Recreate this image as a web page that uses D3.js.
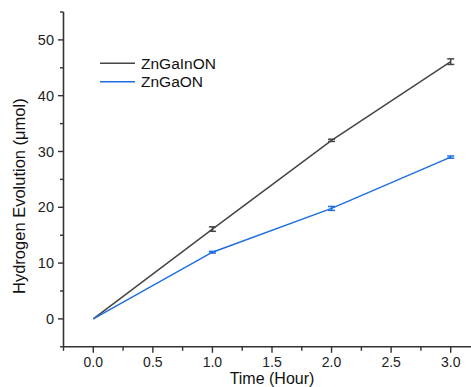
<!DOCTYPE html>
<html>
<head>
<meta charset="utf-8">
<script src="https://cdn.jsdelivr.net/npm/d3@7"></script>
<style>
  body { margin: 0; background: #fff; }
  svg { display: block; font-family: "Liberation Sans", Arial, sans-serif; }
</style>
</head>
<body>
<div id="chart"></div>
<script>
// data
const hours = [0, 1, 2, 3];
const znGaInON = [0, 16.1, 32.0, 46.1];
const znGaInONErr = [0, 0.4, 0.2, 0.5];
const znGaON = [0, 11.95, 19.8, 29.0];
const znGaONErr = [0, 0.15, 0.35, 0.2];
const xTicks = [0, 0.5, 1, 1.5, 2, 2.5, 3];
const yTicks = [0, 10, 20, 30, 40, 50];

const width = 471, height = 387;

const series = [
  { name: "ZnGaInON", values: znGaInON, errs: znGaInONErr, color: "#454545" },
  { name: "ZnGaON", values: znGaON, errs: znGaONErr, color: "#1d6fe0" }
];

const svg = d3.select("#chart").append("svg")
  .attr("width", width)
  .attr("height", height);

const x = d3.scaleLinear().domain([-0.25, 3.25]).range([63.5, 480.5]);
const y = d3.scaleLinear().domain([-5, 55]).range([346.8, 12]);

const axisColor = "#333";

// x axis
const xAxis = svg.append("g").attr("transform", "translate(0," + y(-5) + ")");
xAxis.append("line")
  .attr("x1", x(-0.25)).attr("x2", width)
  .attr("stroke", axisColor).attr("stroke-width", 1.6);
xAxis.selectAll(".minor").data(d3.range(-0.25, 3.3, 0.5)).join("line")
  .attr("x1", d => x(d)).attr("x2", d => x(d))
  .attr("y1", 0).attr("y2", 4)
  .attr("stroke", axisColor).attr("stroke-width", 1.4);
xAxis.selectAll(".major").data(xTicks).join("line")
  .attr("x1", d => x(d)).attr("x2", d => x(d))
  .attr("y1", 0).attr("y2", 6)
  .attr("stroke", axisColor).attr("stroke-width", 1.4);
xAxis.selectAll("text").data(xTicks).join("text")
  .attr("x", d => x(d)).attr("y", 20.5)
  .attr("text-anchor", "middle")
  .attr("font-size", 14).attr("fill", "#222")
  .text(d => d3.format(".1f")(d));

svg.append("text")
  .attr("x", x(1.5)).attr("y", 384)
  .attr("text-anchor", "middle")
  .attr("font-size", 16).attr("fill", "#111")
  .text("Time (Hour)");

// y axis
const yAxis = svg.append("g").attr("transform", "translate(" + x(-0.25) + ",0)");
yAxis.append("line")
  .attr("y1", y(-5)).attr("y2", y(55))
  .attr("stroke", axisColor).attr("stroke-width", 1.6);
yAxis.selectAll(".minor").data(d3.range(-5, 56, 10)).join("line")
  .attr("y1", d => y(d)).attr("y2", d => y(d))
  .attr("x1", 0).attr("x2", -3.5)
  .attr("stroke", axisColor).attr("stroke-width", 1.4);
yAxis.selectAll(".major").data(yTicks).join("line")
  .attr("y1", d => y(d)).attr("y2", d => y(d))
  .attr("x1", 0).attr("x2", -5.5)
  .attr("stroke", axisColor).attr("stroke-width", 1.4);
yAxis.selectAll("text").data(yTicks).join("text")
  .attr("x", -9.5).attr("y", d => y(d) + 5)
  .attr("text-anchor", "end")
  .attr("font-size", 14.5).attr("fill", "#222")
  .text(d => d);

svg.append("text")
  .attr("transform", "translate(25," + y(22) + ") rotate(-90)")
  .attr("text-anchor", "middle")
  .attr("font-size", 16.5).attr("fill", "#111")
  .text("Hydrogen Evolution (\u03bcmol)");

// lines and error bars
const line = d3.line().x((d, i) => x(hours[i])).y(d => y(d));

series.forEach(s => {
  svg.append("path")
    .datum(s.values)
    .attr("fill", "none")
    .attr("stroke", s.color)
    .attr("stroke-width", 1.5)
    .attr("d", line);

  const pts = hours.map((h, i) => ({ h: h, v: s.values[i], e: s.errs[i] })).filter(d => d.e > 0);
  const g = svg.append("g").attr("stroke", s.color).attr("stroke-width", 1.5);
  g.selectAll(".bar").data(pts).join("line")
    .attr("x1", d => x(d.h)).attr("x2", d => x(d.h))
    .attr("y1", d => y(d.v - d.e)).attr("y2", d => y(d.v + d.e));
  g.selectAll(".top").data(pts).join("line")
    .attr("x1", d => x(d.h) - 3.5).attr("x2", d => x(d.h) + 3.5)
    .attr("y1", d => y(d.v + d.e)).attr("y2", d => y(d.v + d.e));
  g.selectAll(".bot").data(pts).join("line")
    .attr("x1", d => x(d.h) - 3.5).attr("x2", d => x(d.h) + 3.5)
    .attr("y1", d => y(d.v - d.e)).attr("y2", d => y(d.v - d.e));
});

// legend
const legend = svg.append("g");
series.forEach((s, i) => {
  const ly = 63.3 + i * 18.4;
  legend.append("line")
    .attr("x1", 100).attr("x2", 135)
    .attr("y1", ly).attr("y2", ly)
    .attr("stroke", s.color).attr("stroke-width", 1.5);
  legend.append("text")
    .attr("x", 141).attr("y", ly + 5.5)
    .attr("font-size", 15.5).attr("fill", "#111")
    .text(s.name);
});
</script>
</body>
</html>
